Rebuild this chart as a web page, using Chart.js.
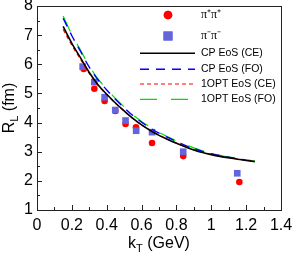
<!DOCTYPE html>
<html>
<head>
<meta charset="utf-8">
<script src="https://cdn.jsdelivr.net/npm/chart.js@4/dist/chart.umd.min.js"></script>
<style>
  html, body { margin: 0; padding: 0; background: #fff; }
  #c { display: block; }
</style>
</head>
<body>
<canvas id="c" width="293" height="253"></canvas>
<script>
// ---- data ----
const kTPlus   = [0.268, 0.329, 0.388, 0.449, 0.508, 0.568, 0.660, 0.839, 1.161];
const rLPlus   = [5.84, 5.16, 4.74, 4.40, 3.95, 3.84, 3.30, 2.85, 1.96];
const kTMinus  = [0.262, 0.329, 0.388, 0.449, 0.508, 0.569, 0.660, 0.839, 1.149];
const rLMinus  = [5.92, 5.39, 4.87, 4.43, 4.07, 3.72, 3.67, 3.00, 2.26];

const kTCurve  = [0.15, 0.20, 0.25, 0.30, 0.35, 0.40, 0.45, 0.50, 0.55, 0.60, 0.65, 0.70,
                  0.75, 0.80, 0.85, 0.90, 0.95, 1.00, 1.05, 1.10, 1.15, 1.20, 1.25];
const rCPCE    = [7.30, 6.72, 6.22, 5.72, 5.30, 4.97, 4.67, 4.40, 4.14, 3.92, 3.73, 3.56,
                  3.42, 3.29, 3.17, 3.06, 2.97, 2.90, 2.84, 2.79, 2.74, 2.70, 2.66];
const rCPFO    = [7.58, 6.98, 6.44, 5.90, 5.47, 5.12, 4.80, 4.51, 4.24, 4.01, 3.81, 3.64,
                  3.49, 3.35, 3.22, 3.11, 3.01, 2.93, 2.87, 2.81, 2.76, 2.71, 2.67];
const r1OPTCE  = [7.20, 6.65, 6.17, 5.69, 5.28, 4.96, 4.66, 4.40, 4.14, 3.92, 3.74, 3.57,
                  3.43, 3.30, 3.18, 3.07, 2.98, 2.91, 2.85, 2.80, 2.75, 2.71, 2.67];
const r1OPTFO  = [7.66, 7.02, 6.48, 5.94, 5.50, 5.15, 4.83, 4.54, 4.27, 4.04, 3.84, 3.66,
                  3.51, 3.37, 3.24, 3.13, 3.03, 2.95, 2.88, 2.82, 2.77, 2.72, 2.68];

const xTicks = [0, 0.2, 0.4, 0.6, 0.8, 1.0, 1.2, 1.4];
const yTicks = [1, 2, 3, 4, 5, 6, 7, 8];

const labels = ['π⁺π⁺', 'π⁻π⁻', 'CP EoS (CE)', 'CP EoS (FO)', '1OPT EoS (CE)', '1OPT EoS (FO)'];

const pts = (xs, ys) => xs.map((x, i) => ({ x: x, y: ys[i] }));

const FONT = '"Liberation Sans", Arial, sans-serif';

function lineDs(label, ys, color, dash, width, order) {
  return {
    label: label, data: pts(kTCurve, ys), showLine: true, pointRadius: 0,
    borderColor: color, borderWidth: width, borderDash: dash,
    cubicInterpolationMode: 'monotone', fill: false, order: order
  };
}

const datasets = [
  { label: labels[0], data: pts(kTPlus, rLPlus), pointStyle: 'circle', pointRadius: 3.3,
    backgroundColor: '#ff0000', borderWidth: 0, order: 6 },
  { label: labels[1], data: pts(kTMinus, rLMinus), pointStyle: 'rect', pointRadius: 4.7,
    backgroundColor: '#6464dc', borderWidth: 0, order: 5 },
  lineDs(labels[2], rCPCE, '#000000', [], 1.6, 1),
  lineDs(labels[3], rCPFO, '#0000ff', [9, 7], 1.4, 3),
  lineDs(labels[4], r1OPTCE, '#ff0000', [4, 3], 1.2, 2),
  lineDs(labels[5], r1OPTFO, '#00dd00', [17, 14], 1.2, 4)
];

const framePlugin = {
  id: 'frame',
  beforeDatasetsDraw(chart) {
    const { ctx, chartArea: a, scales } = chart;
    ctx.save();
    ctx.strokeStyle = '#222';
    ctx.lineWidth = 1;
    // inward ticks
    ctx.beginPath();
    for (let v = 0; v <= 14; v++) {
      const x = Math.round(scales.x.getPixelForValue(v / 10)) + 0.5;
      const len = (v % 2 === 0) ? 5 : 3;
      ctx.moveTo(x, a.bottom); ctx.lineTo(x, a.bottom - len);
    }
    for (let v = 2; v <= 16; v++) {
      const y = Math.round(scales.y.getPixelForValue(v / 2)) + 0.5;
      const len = (v % 2 === 0) ? 5 : 3;
      ctx.moveTo(a.left, y); ctx.lineTo(a.left + len, y);
    }
    ctx.stroke();
    ctx.strokeRect(Math.round(a.left) + 0.5, Math.round(a.top) + 0.5,
                   Math.round(a.right - a.left), Math.round(a.bottom - a.top));
    ctx.restore();
  },
  afterDraw(chart) {
    const { ctx, chartArea: a } = chart;
    ctx.save();
    ctx.fillStyle = '#000';
    // x axis title: k_T (GeV)
    const cx = (a.left + a.right) / 2;
    const by = 248;
    ctx.font = '16px ' + FONT;
    const w1 = ctx.measureText('k').width;
    const w3 = ctx.measureText(' (GeV)').width;
    ctx.font = '11px ' + FONT;
    const w2 = ctx.measureText('T').width;
    let x0 = cx - (w1 + w2 + w3) / 2;
    ctx.textBaseline = 'alphabetic';
    ctx.textAlign = 'left';
    ctx.font = '16px ' + FONT; ctx.fillText('k', x0, by);
    ctx.font = '11px ' + FONT; ctx.fillText('T', x0 + w1, by + 4);
    ctx.font = '16px ' + FONT; ctx.fillText(' (GeV)', x0 + w1 + w2, by);

    // y axis title: R_L (fm)
    ctx.translate(14, (a.top + a.bottom) / 2);
    ctx.rotate(-Math.PI / 2);
    ctx.font = '16px ' + FONT;
    const v1 = ctx.measureText('R').width;
    const v3 = ctx.measureText(' (fm)').width;
    ctx.font = '11px ' + FONT;
    const v2 = ctx.measureText('L').width;
    let y0 = -(v1 + v2 + v3) / 2;
    ctx.font = '16px ' + FONT; ctx.fillText('R', y0, 0);
    ctx.font = '11px ' + FONT; ctx.fillText('L', y0 + v1, 4);
    ctx.font = '16px ' + FONT; ctx.fillText(' (fm)', y0 + v1 + v2, 0);
    ctx.restore();

    // legend
    ctx.save();
    const rows = [15, 36, 53.3, 69.3, 84, 99.3];
    const lx0 = 140, lx1 = 195, tx = 201;
    chart.data.datasets.forEach((ds, i) => {
      const y = rows[i];
      if (ds.showLine) {
        ctx.strokeStyle = ds.borderColor;
        ctx.lineWidth = ds.borderWidth;
        ctx.setLineDash(ds.borderDash || []);
        ctx.beginPath();
        ctx.moveTo(lx0, y); ctx.lineTo(lx1, y);
        ctx.stroke();
        ctx.setLineDash([]);
      } else {
        ctx.fillStyle = ds.backgroundColor;
        Chart.helpers.drawPoint(ctx, {
          pointStyle: ds.pointStyle,
          radius: ds.pointStyle === 'rect' ? 6.4 : 4.3,
          borderWidth: 0, rotation: 0
        }, 168, y);
        ctx.fill();
      }
      ctx.fillStyle = '#000';
      ctx.textAlign = 'left';
      ctx.textBaseline = 'middle';
      ctx.font = (ds.showLine ? '10.5px ' + FONT : '12px "Liberation Serif", serif');
      ctx.fillText(ds.label, tx, y);
    });
    ctx.restore();
  }
};

new Chart(document.getElementById('c'), {
  type: 'scatter',
  data: { datasets: datasets },
  options: {
    responsive: false,
    animation: false,
    devicePixelRatio: 1,
    layout: { padding: { top: 6, right: 12, left: 0, bottom: 0 } },
    plugins: { legend: { display: false }, tooltip: { enabled: false } },
    scales: {
      x: {
        type: 'linear', min: 0, max: 1.4,
        afterBuildTicks: s => { s.ticks = xTicks.map(v => ({ value: v })); },
        ticks: {
          color: '#000', padding: 6, maxRotation: 0,
          font: { family: FONT, size: 16 },
          callback: v => (v === 0 ? '0' : (Math.round(v * 10) / 10).toString())
        },
        grid: { display: false, drawTicks: false },
        border: { display: false },
        afterFit: s => { s.height = 43; s.paddingLeft = 0; s.paddingRight = 0; }
      },
      y: {
        type: 'linear', min: 1, max: 8,
        afterBuildTicks: s => { s.ticks = yTicks.map(v => ({ value: v })); },
        ticks: {
          color: '#000', padding: 4,
          font: { family: FONT, size: 16 },
          callback: v => v.toString()
        },
        grid: { display: false, drawTicks: false },
        border: { display: false },
        afterFit: s => { s.width = 37; s.paddingTop = 0; s.paddingBottom = 0; }
      }
    }
  },
  plugins: [framePlugin]
});
</script>
</body>
</html>
